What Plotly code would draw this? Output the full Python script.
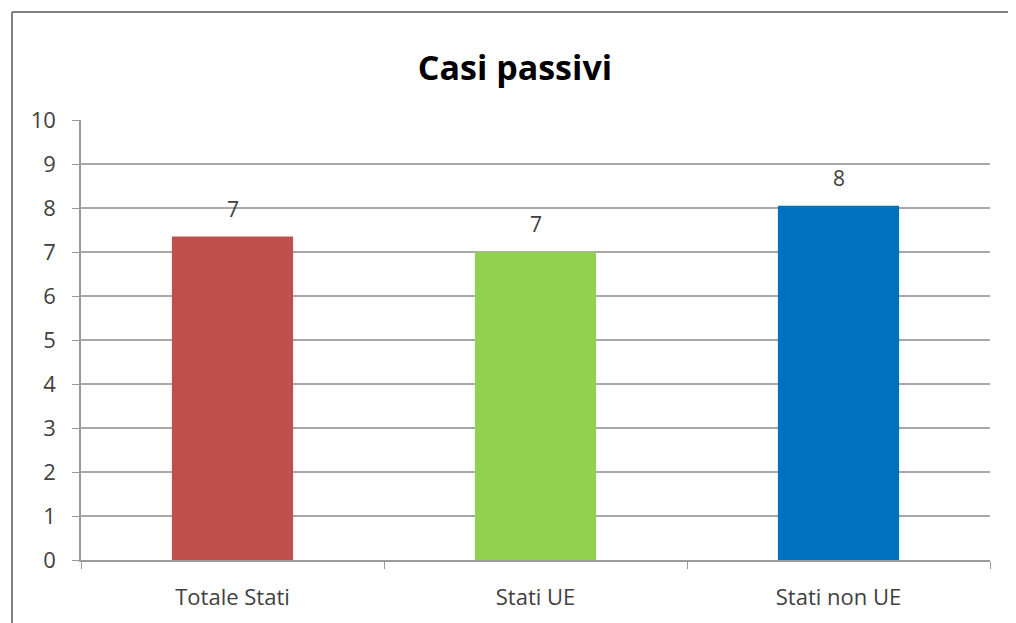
import plotly.graph_objects as go

categories = ["Totale Stati", "Stati UE", "Stati non UE"]
values = [7.35, 7.0, 8.05]
labels = ["7", "7", "8"]
colors = ["#C0504D", "#92D050", "#0070C0"]
y_ticks = [0, 1, 2, 3, 4, 5, 6, 7, 8, 9, 10]

W, H = 1016, 623
OFF = 8  # page body margin
L, R, T, B = 81 - OFF, 34, 120 - OFF, 71
pw, ph = W - L - R, H - T - B

fig = go.Figure()
fig.add_trace(go.Bar(
    x=categories, y=values, marker_color=colors, marker_line_width=0,
    width=0.4, hoverinfo="x+y",
))
for c, v, t in zip(categories, values, labels):
    fig.add_annotation(x=c, y=v, text=t, showarrow=False, yanchor="middle",
                       yshift=28, font=dict(family="Open Sans", size=21, color="#404040"))

bx = (12 - OFF - L) / pw
by = 1 + (T - (12 - OFF)) / ph
fig.add_shape(type="line", xref="paper", yref="paper", x0=bx, x1=bx, y0=-1, y1=by,
              line=dict(color="#808080", width=2))
fig.add_shape(type="line", xref="paper", yref="paper", x0=bx, x1=2, y0=by, y1=by,
              line=dict(color="#808080", width=2))

fig.update_layout(
    width=W, height=H,
    margin=dict(l=L, r=R, t=T, b=B),
    paper_bgcolor="white", plot_bgcolor="white",
    showlegend=False,
    title=dict(text="<b>Casi passivi</b>", x=(515 - OFF) / W, xanchor="center",
               y=1 - (68 - OFF) / H, yanchor="middle",
               font=dict(family="Open Sans", size=34, color="#000000")),
    font=dict(family="Open Sans", color="#404040"),
)
fig.update_xaxes(
    showline=True, linecolor="#9a9a9a", linewidth=1.5,
    ticks="outside", tickson="boundaries", ticklen=7, tickcolor="#9a9a9a",
    tickfont=dict(family="Open Sans", size=22, color="#404040"),
    ticklabelstandoff=17,
    showgrid=False,
)
fig.update_yaxes(
    range=[0, 10], tickvals=y_ticks,
    showline=True, linecolor="#9a9a9a", linewidth=1.5,
    ticks="outside", ticklen=7, tickcolor="#9a9a9a",
    ticklabelstandoff=12,
    showgrid=True, gridcolor="#a8a8a8", gridwidth=1.5,
    zeroline=False,
    tickfont=dict(family="Open Sans", size=22, color="#404040"),
)
fig.write_html("out.html")
